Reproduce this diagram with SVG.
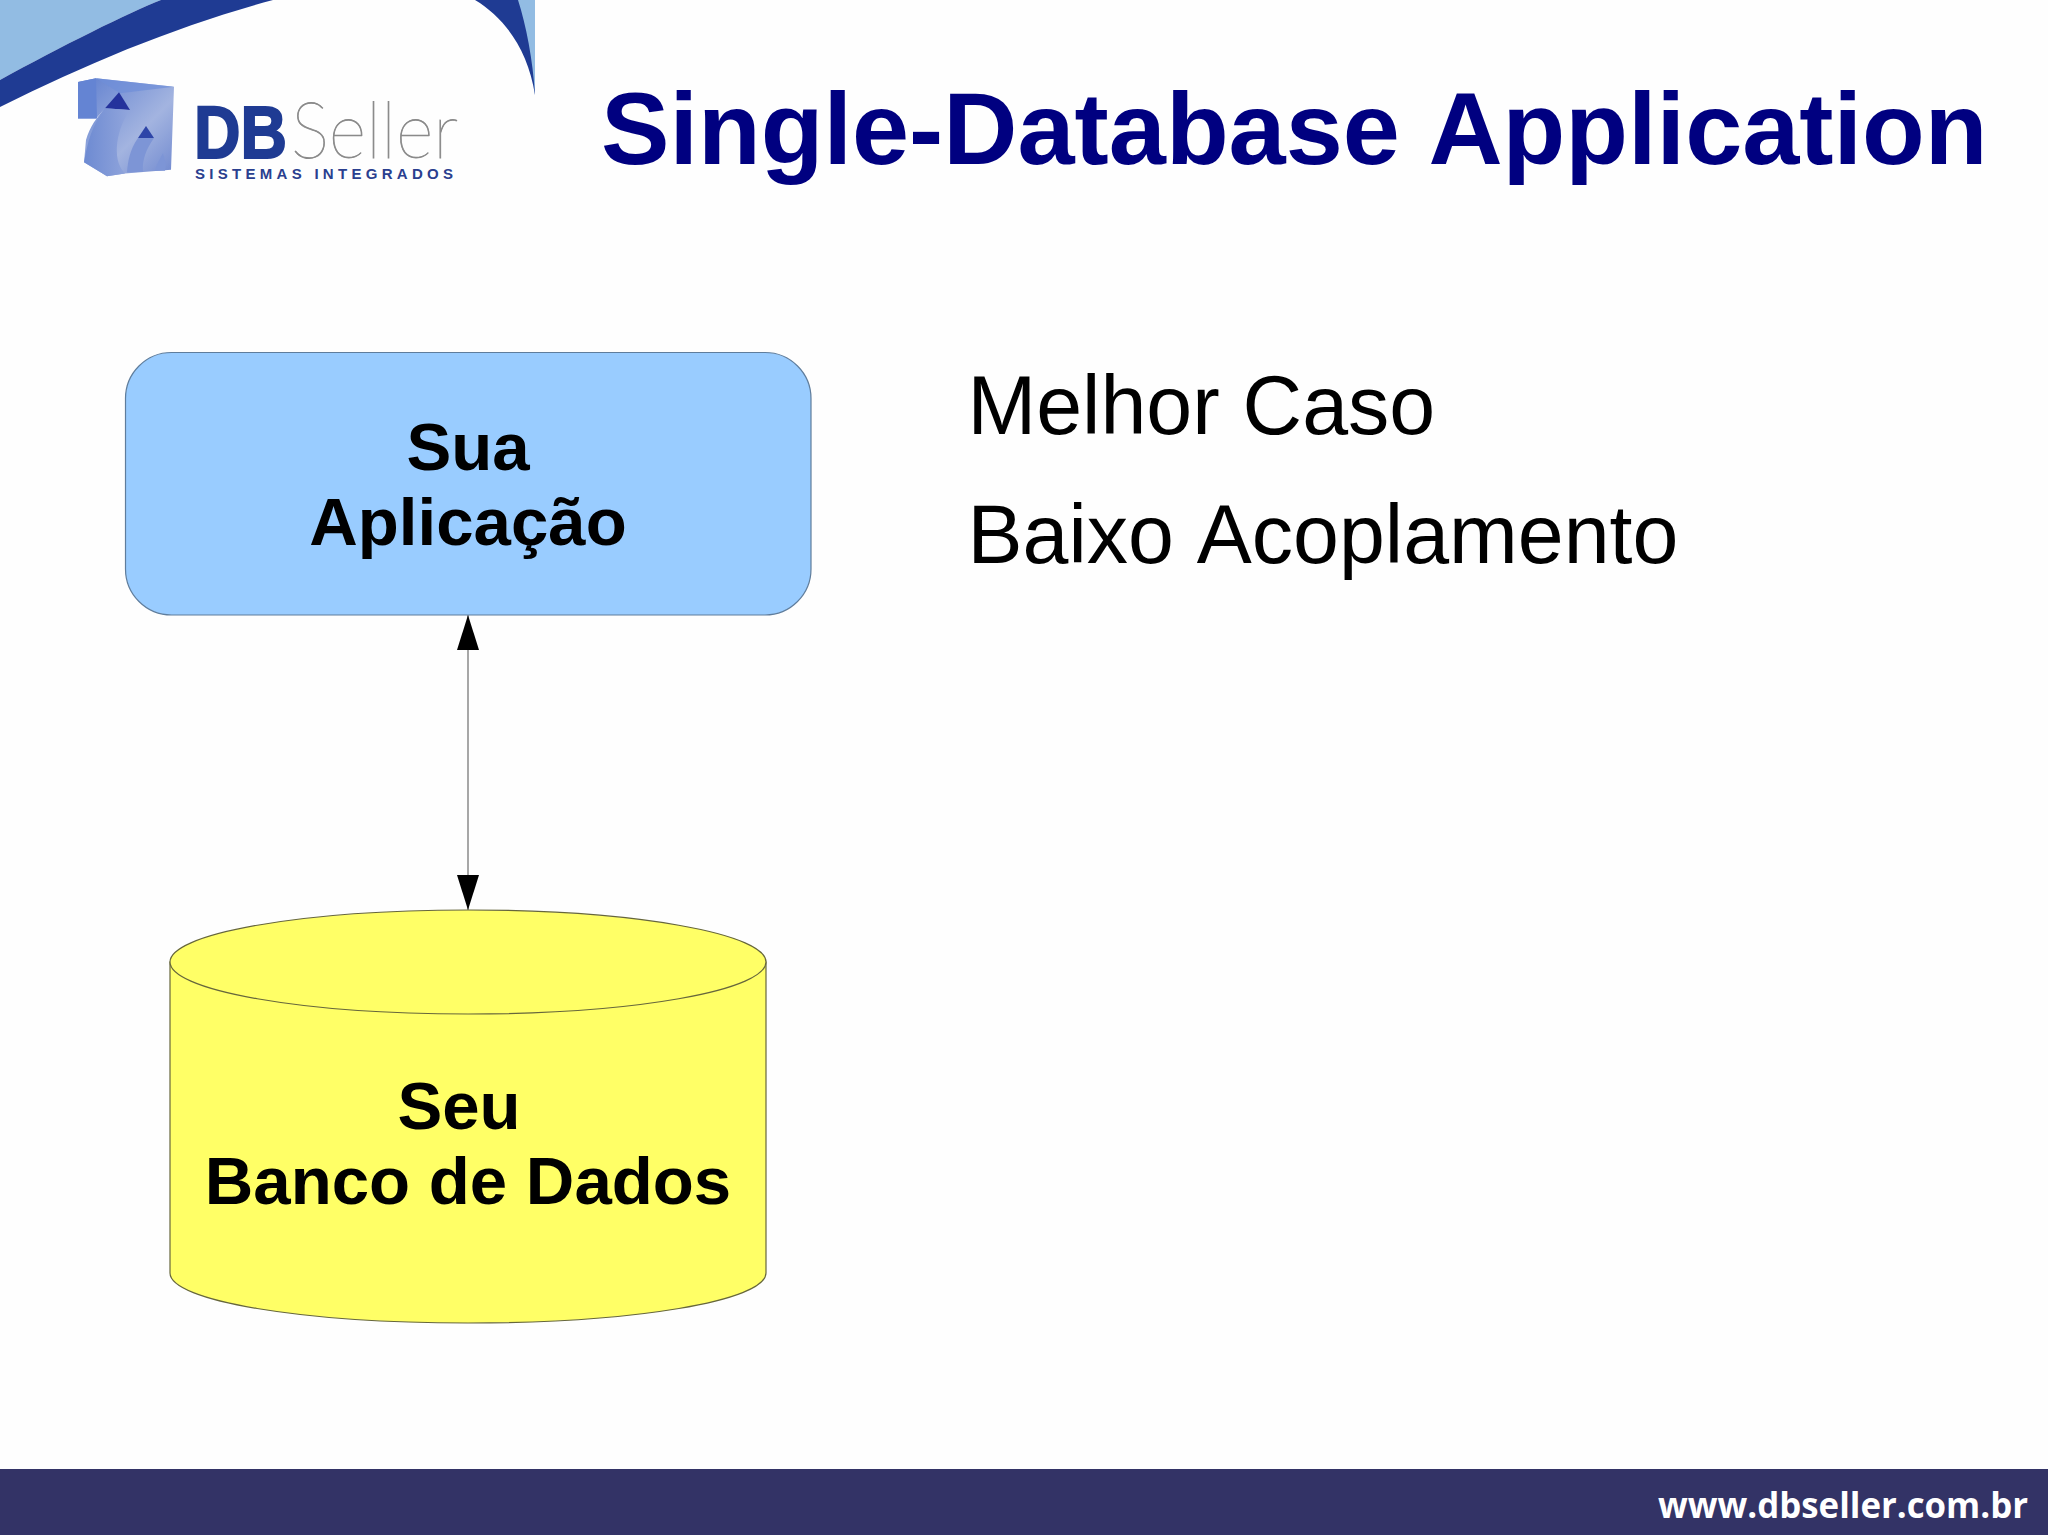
<svg xmlns="http://www.w3.org/2000/svg" width="2048" height="1535" viewBox="0 0 2048 1535">
<style>
text{font-family:"Liberation Sans",Arial,sans-serif}
.lbl{font-size:67.2px;font-weight:700;fill:#000;text-anchor:middle}
.body{font-size:82.5px;fill:#000;font-kerning:none}
.edge{stroke:#8a8a8a;stroke-width:1.5;fill:none}
</style>
<defs>
<linearGradient id="cube" x1="0" y1="0" x2="1" y2="1"><stop offset="0" stop-color="#5f7fcf"/><stop offset=".6" stop-color="#a3b4e0"/><stop offset="1" stop-color="#6f88cf"/></linearGradient>
<linearGradient id="curve" x1="0" y1="0" x2="1" y2="0"><stop offset="0" stop-color="#6d8ad2"/><stop offset="1" stop-color="#92a6dc"/></linearGradient>
<marker id="tip" markerUnits="userSpaceOnUse" markerWidth="35" markerHeight="22" refX="35" refY="11" viewBox="0 0 35 22" orient="auto-start-reverse"><path d="M0 0L35 11L0 22Z" fill="#000"/></marker>
</defs>
<rect width="2048" height="1535" fill="#fefefe"/>
<g id="header">
<path d="M0 0H161C130 12 60 47 0 80Z" fill="#92bce3"/>
<path d="M161 0H273C180 25 90 62 0 107V80C60 47 130 12 161 0Z" fill="#1f3b93"/>
<path d="M475 0C505 18 528 50 535 95V0Z" fill="#1f3b93"/>
<path d="M518 0C526 25 533 60 535 95V0Z" fill="#92bce3"/>
</g>
<g id="logo">
<g transform="scale(1 .933)">
<path d="M78 88L96 84L174 93L171 182L125 186L107 189L84 174L86 150C90 135 97 126 105 116L96 127H78Z" fill="url(#cube)"/>
<path d="M78 88L96 84L97 127H78Z" fill="#6484d3"/>
<path d="M96 84L174 93L120 100Z" fill="#6f8ed8" opacity=".7"/>
<path d="M105 116L119 99L130 118Z" fill="#24329c"/>
<path d="M105 116C92 135 88 150 84 174L107 189L125 186C110 170 118 135 130 118Z" fill="url(#curve)"/>
<path d="M138 148L146 135L154 148Z" fill="#2e45a8"/>
<path d="M138 148C130 160 128 172 127 185L143 184C142 172 146 160 154 148Z" fill="#7d95d6"/>
<path d="M157 176L163 164L166 176L165 183L155 183Z" fill="#7d95d6"/>
</g>
<text x="194" y="158" font-size="74" font-weight="700" fill="#1f3b93" stroke="#1f3b93" stroke-width="2" textLength="93" lengthAdjust="spacingAndGlyphs">DB</text>
<text x="291" y="158" font-size="78" font-weight="100" fill="#8a8a8a" stroke="#8a8a8a" stroke-width=".8" style="font-family:Lato,'Open Sans',sans-serif" textLength="167" lengthAdjust="spacingAndGlyphs">Seller</text>
<text x="195" y="179" font-size="15" font-weight="700" fill="#2a3f8f" textLength="258">SISTEMAS INTEGRADOS</text>
</g>
<g id="title"><text x="601" y="164" font-size="102.7" font-weight="700" fill="#000080" style="font-kerning:none">Single-Database Application</text></g>
<g id="connectors"><line class="edge" x1="468" y1="615" x2="468" y2="910" marker-start="url(#tip)" marker-end="url(#tip)"/></g>
<g id="app">
<rect x="125.500" y="352.500" width="685.500" height="262.500" rx="46" fill="#99ccff" stroke="#5f7d9c" stroke-width="1.200"/>
<text class="lbl" x="468" y="470">Sua</text>
<text class="lbl" x="468" y="545">Aplicação</text>
</g>
<g id="db">
<path d="M170 962V1273C170 1301 303 1323 468 1323S766 1301 766 1273V962Z" fill="#ffff66" stroke="#66663c" stroke-width="1.200"/>
<ellipse cx="468" cy="962" rx="298" ry="52" fill="#ffff66" stroke="#66663c" stroke-width="1.200"/>
<text class="lbl" x="459" y="1129">Seu</text>
<text class="lbl" x="468" y="1204">Banco de Dados</text>
</g>
<g id="notes">
<text class="body" x="967.500" y="434">Melhor Caso</text>
<text class="body" x="967.500" y="563">Baixo Acoplamento</text>
</g>
<g id="footer">
<rect x="0" y="1469" width="2048" height="66" fill="#333366"/>
<text x="1658" y="1518" font-size="35" font-weight="700" fill="#fff" style="font-family:'Open Sans',sans-serif" textLength="370" lengthAdjust="spacingAndGlyphs">www.dbseller.com.br</text>
</g>
</svg>
